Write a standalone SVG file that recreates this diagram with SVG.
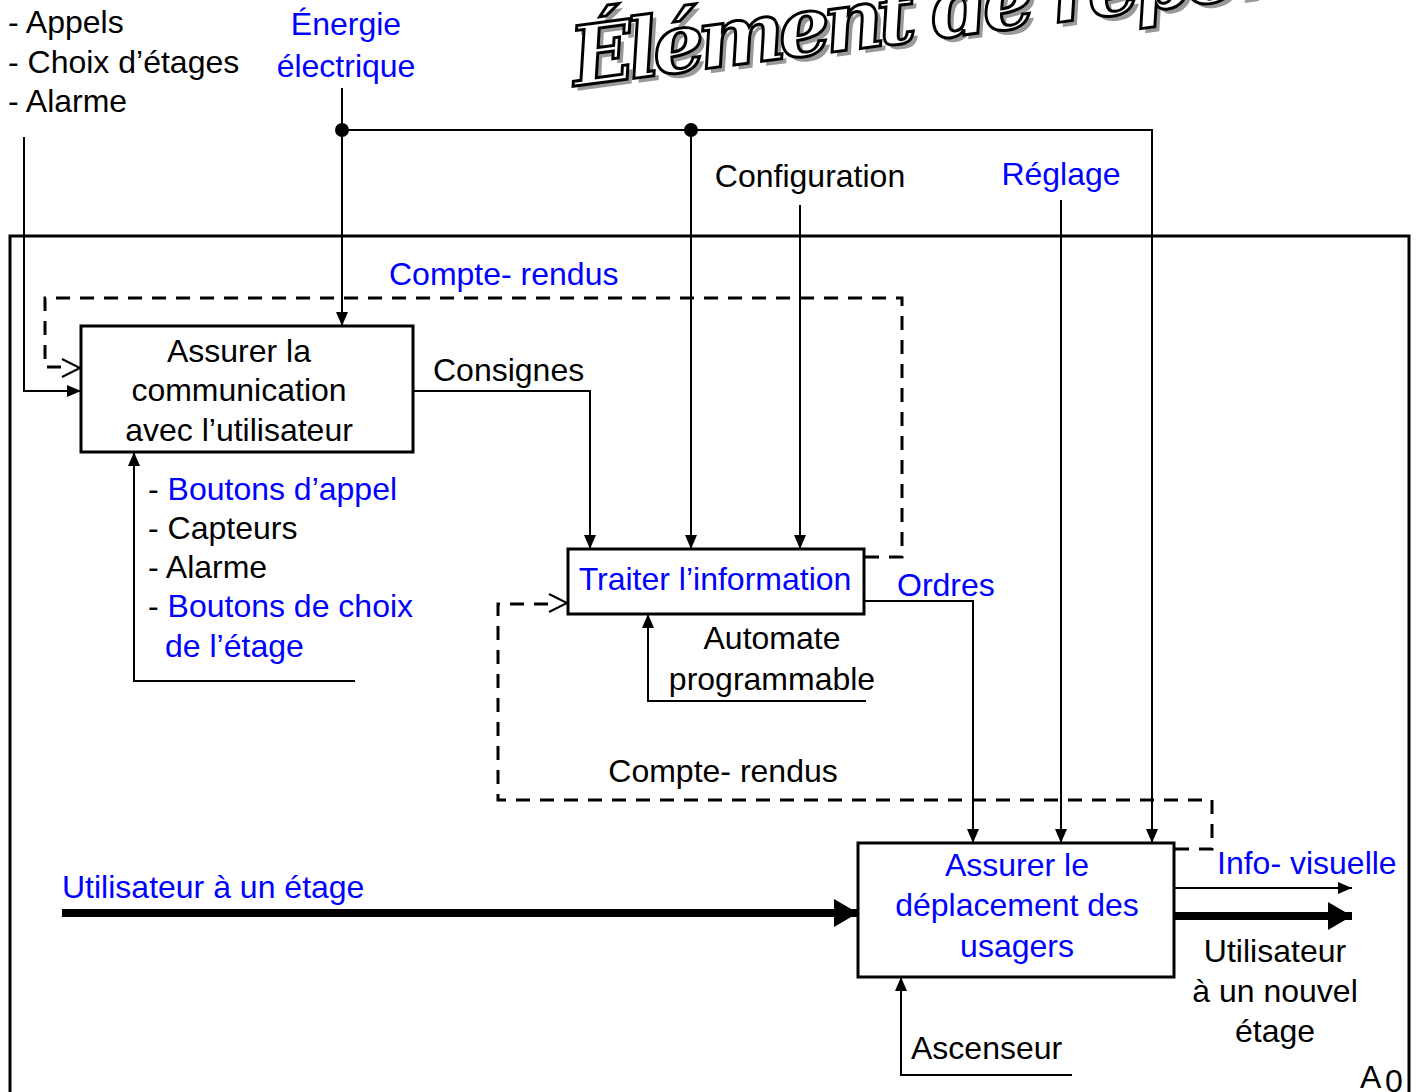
<svg xmlns="http://www.w3.org/2000/svg" width="1418" height="1092" viewBox="0 0 1418 1092">
<defs>
<style>
.t{font-family:"Liberation Sans",Arial,sans-serif;font-size:32px;fill:#000}
.b{fill:#0000ff}
.m{text-anchor:middle}
.box{fill:#fff;stroke:#000;stroke-width:3}
.ln{fill:none;stroke:#000;stroke-width:2}
.dash{fill:none;stroke:#000;stroke-width:3;stroke-dasharray:14 10}
.thick{fill:none;stroke:#000;stroke-width:8}
.title{font-family:"DejaVu Serif",serif;font-weight:bold;font-style:italic;font-size:82px;letter-spacing:-6px}
</style>
<marker id="ah" viewBox="0 0 14 12" refX="14" refY="6" markerWidth="14" markerHeight="12" markerUnits="userSpaceOnUse" orient="auto">
<path d="M0,0 L14,6 L0,12 z" fill="#000"/>
</marker>
<marker id="ahb" viewBox="0 0 24 28" refX="24" refY="14" markerWidth="24" markerHeight="28" markerUnits="userSpaceOnUse" orient="auto">
<path d="M0,0 L24,14 L0,28 z" fill="#000"/>
</marker>
</defs>
<rect width="1418" height="1092" fill="#fff"/>

<g id="title" transform="rotate(-7.5 575 86)">
<text class="title" x="579" y="91" fill="#999">Élément de réponse</text>
<text class="title" x="575" y="86" fill="#fff" stroke="#000" stroke-width="3">Élément de réponse</text>
</g>

<g id="frame">
<rect x="10" y="236" width="1399" height="880" fill="none" stroke="#000" stroke-width="3"/>
<text class="t" x="1360" y="1088" font-size="36">A</text>
<text class="t" x="1385" y="1092" font-size="20">0</text>
</g>

<g id="connectors">
<path class="ln" d="M24,137 V391 H81" marker-end="url(#ah)"/>
<path class="ln" d="M342,88 V326" marker-end="url(#ah)"/>
<path class="ln" d="M342,130 H1152 V843" marker-end="url(#ah)"/>
<path class="ln" d="M691,130 V549" marker-end="url(#ah)"/>
<circle cx="342" cy="130" r="7" fill="#000"/>
<circle cx="691" cy="130" r="7" fill="#000"/>
<path class="ln" d="M800,205 V549" marker-end="url(#ah)"/>
<path class="ln" d="M1061,200 V843" marker-end="url(#ah)"/>
<path class="ln" d="M413,391 H590 V549" marker-end="url(#ah)"/>
<path class="ln" d="M864,601 H973 V843" marker-end="url(#ah)"/>
<path class="dash" d="M865,557 H902 V298 H45 V367 H62"/>
<path class="ln" stroke-width="3" d="M62,359 L80,368 L62,377"/>
<path class="dash" d="M1175,849 H1212 V800 H498 V604 H550"/>
<path class="ln" stroke-width="3" d="M549,594 L567,603 L549,612"/>
<path class="ln" d="M355,681 H134 V452" marker-end="url(#ah)"/>
<path class="ln" d="M866,701 H648 V614" marker-end="url(#ah)"/>
<path class="ln" d="M1072,1075 H901 V977" marker-end="url(#ah)"/>
<path class="thick" d="M62,913 H858" marker-end="url(#ahb)"/>
<path class="ln" d="M1174,888 H1352" marker-end="url(#ah)"/>
<path class="thick" d="M1174,916 H1352" marker-end="url(#ahb)"/>
</g>

<g id="labels">
<text class="t" x="8" y="33">- Appels</text>
<text class="t" x="8" y="73">- Choix d’étages</text>
<text class="t" x="8" y="112">- Alarme</text>
<text class="t b m" x="346" y="35">Énergie</text>
<text class="t b m" x="346" y="77">électrique</text>
<text class="t m" x="810" y="187">Configuration</text>
<text class="t b m" x="1061" y="185">Réglage</text>
<text class="t b" x="389" y="285">Compte- rendus</text>
<text class="t" x="433" y="381">Consignes</text>
<text class="t" x="148" y="500">- <tspan class="b">Boutons d’appel</tspan></text>
<text class="t" x="148" y="539">- Capteurs</text>
<text class="t" x="148" y="578">- Alarme</text>
<text class="t" x="148" y="617">- <tspan class="b">Boutons de choix</tspan></text>
<text class="t b" x="165" y="657">de l’étage</text>
<text class="t b" x="897" y="596">Ordres</text>
<text class="t m" x="772" y="649">Automate</text>
<text class="t m" x="772" y="690">programmable</text>
<text class="t m" x="723" y="782">Compte- rendus</text>
<text class="t b" x="62" y="898">Utilisateur à un étage</text>
<text class="t b" x="1217" y="874">Info- visuelle</text>
<text class="t m" x="1275" y="962">Utilisateur</text>
<text class="t m" x="1275" y="1002">à un nouvel</text>
<text class="t m" x="1275" y="1042">étage</text>
<text class="t" x="911" y="1059">Ascenseur</text>
</g>

<g id="node-A1">
<rect class="box" x="81" y="326" width="332" height="126"/>
<text class="t m" x="239" y="362">Assurer la</text>
<text class="t m" x="239" y="401">communication</text>
<text class="t m" x="239" y="441">avec l’utilisateur</text>
</g>

<g id="node-A2">
<rect class="box" x="568" y="549" width="296" height="65"/>
<text class="t b m" x="715" y="590">Traiter l’information</text>
</g>

<g id="node-A3">
<rect class="box" x="858" y="843" width="316" height="134"/>
<text class="t b m" x="1017" y="876">Assurer le</text>
<text class="t b m" x="1017" y="916">déplacement des</text>
<text class="t b m" x="1017" y="957">usagers</text>
</g>
</svg>
